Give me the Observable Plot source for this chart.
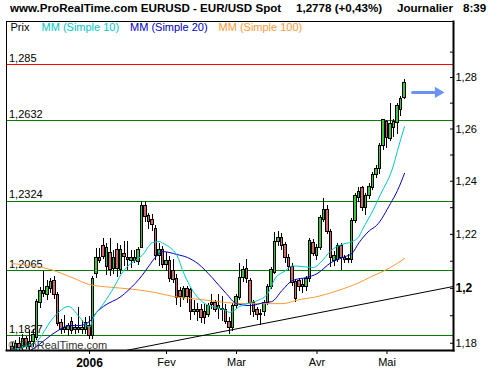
<!DOCTYPE html>
<html><head><meta charset="utf-8">
<script src="https://cdn.jsdelivr.net/npm/d3@7"></script>
<script src="https://cdn.jsdelivr.net/npm/@observablehq/plot@0.6"></script>
<style>
body{margin:0;background:#fff;font-family:"Liberation Sans",Arial,sans-serif;}
#wrap{position:relative;width:500px;height:370px;overflow:hidden;background:#fff;}
#title{position:absolute;left:0;top:0;width:500px;height:20px;font-weight:bold;font-size:11.6px;line-height:12px;color:#000;}
#title span{position:absolute;top:2px;white-space:nowrap;}
#chart{position:absolute;left:0;top:20px;}
</style></head><body>
<div id="wrap">
<div id="title">
<span style="left:10px">www.ProRealTime.com EURUSD - EUR/USD Spot</span>
<span style="left:296px">1,2778 (+0,43%)</span>
<span style="left:397px">Journalier</span>
<span style="left:463px">8:39</span>
</div>
<div id="chart"></div>
</div>
<script>
// daily candles, 1 Dec 2005 (index 0) to 8 May 2006 (index 112), trading-day index
const openP = [1.1788,1.1773,1.1799,1.1783,1.1815,1.1788,1.1804,1.1820,1.1945,1.1989,
1.1975,1.1999,1.2028,1.1975,1.1873,1.1854,1.1849,1.1878,1.1849,1.1854,
1.1849,1.1849,1.1863,1.1825,1.2052,1.2113,1.2156,1.2077,1.2131,1.2072,
1.2140,1.2067,1.2126,1.2113,1.2101,1.2111,1.2096,1.2151,1.2308,1.2270,
1.2255,1.2220,1.2121,1.2141,1.2086,1.2101,1.2065,1.2033,1.1989,1.1965,
1.1999,1.1994,1.1912,1.1921,1.1921,1.1912,1.1902,1.1940,1.1945,1.1926,
1.1921,1.1921,1.1878,1.1857,1.1936,1.1965,1.2037,1.2072,1.2028,1.1945,
1.1921,1.1907,1.1912,1.1945,1.2004,1.2057,1.2170,1.2185,1.2161,1.2111,
1.2077,1.2023,1.2028,1.2013,1.2004,1.2033,1.2166,1.2121,1.2151,1.2255,
1.2290,1.2210,1.2101,1.2106,1.2156,1.2111,1.2103,1.2106,1.2250,1.2335,
1.2375,1.2300,1.2345,1.2375,1.2425,1.2445,1.2536,1.2628,1.2562,1.2602,
1.2623,1.2674,1.2721];
const highP = [1.1804,1.1809,1.1820,1.1830,1.1825,1.1845,1.1849,1.1960,1.2004,1.2062,
1.2028,1.2038,1.2042,1.1985,1.1887,1.1902,1.1873,1.1892,1.1868,1.1931,
1.1883,1.1892,1.1897,1.2042,1.2148,1.2146,1.2185,1.2166,1.2185,1.2141,
1.2166,1.2159,1.2175,1.2175,1.2141,1.2141,1.2151,1.2325,1.2325,1.2280,
1.2275,1.2235,1.2166,1.2156,1.2131,1.2116,1.2106,1.2052,1.2004,1.2008,
1.2008,1.1999,1.1955,1.1945,1.1940,1.1940,1.1945,1.1979,1.1955,1.1979,
1.1970,1.1940,1.1892,1.1945,1.1979,1.2090,1.2082,1.2106,1.2038,1.1955,
1.1931,1.1921,1.1955,1.2013,1.2077,1.2207,1.2210,1.2205,1.2170,1.2126,
1.2091,1.2033,1.2038,1.2033,1.2042,1.2185,1.2180,1.2161,1.2270,1.2335,
1.2310,1.2220,1.2136,1.2166,1.2166,1.2121,1.2126,1.2260,1.2355,1.2375,
1.2380,1.2355,1.2390,1.2435,1.2460,1.2546,1.2638,1.2633,1.2700,1.2638,
1.2700,1.2726,1.2793];
const lowP = [1.1753,1.1758,1.1768,1.1773,1.1778,1.1773,1.1783,1.1809,1.1926,1.1965,
1.1955,1.1980,1.1960,1.1859,1.1830,1.1835,1.1825,1.1830,1.1830,1.1835,
1.1830,1.1830,1.1815,1.1815,1.2036,1.2091,1.2106,1.2047,1.2042,1.2052,
1.2039,1.2052,1.2082,1.2067,1.2072,1.2091,1.2086,1.2146,1.2245,1.2220,
1.2210,1.2101,1.2082,1.2072,1.2062,1.2023,1.2018,1.1936,1.1931,1.1955,
1.1945,1.1883,1.1902,1.1878,1.1873,1.1868,1.1892,1.1921,1.1912,1.1887,
1.1878,1.1868,1.1830,1.1844,1.1921,1.1955,1.2023,1.2018,1.1902,1.1892,
1.1883,1.1864,1.1897,1.1936,1.1994,1.2052,1.2156,1.2141,1.2091,1.2067,
1.2008,1.1950,1.1989,1.1980,1.1989,1.2023,1.2116,1.2101,1.2141,1.2245,
1.2200,1.2077,1.2082,1.2096,1.2065,1.2091,1.2091,1.2091,1.2240,1.2320,
1.2285,1.2270,1.2330,1.2365,1.2410,1.2425,1.2516,1.2526,1.2552,1.2567,
1.2577,1.2648,1.2716];
const closeP = [1.1773,1.1799,1.1783,1.1815,1.1788,1.1804,1.1830,1.1950,1.1989,1.1980,
1.2004,1.2023,1.1975,1.1868,1.1849,1.1849,1.1863,1.1844,1.1854,1.1849,
1.1854,1.1873,1.1825,1.2033,1.2111,1.2101,1.2114,1.2151,1.2067,1.2111,
1.2073,1.2140,1.2116,1.2103,1.2111,1.2101,1.2141,1.2305,1.2265,1.2245,
1.2235,1.2121,1.2141,1.2086,1.2101,1.2033,1.2029,1.1965,1.1970,1.1999,
1.1967,1.1912,1.1921,1.1914,1.1892,1.1892,1.1936,1.1947,1.1921,1.1936,
1.1926,1.1878,1.1854,1.1936,1.1970,1.2037,1.2067,1.2033,1.1945,1.1912,
1.1902,1.1902,1.1945,1.2004,1.2067,1.2170,1.2185,1.2156,1.2111,1.2077,
1.2018,1.1960,1.2005,1.2005,1.2033,1.2175,1.2126,1.2151,1.2260,1.2290,
1.2210,1.2111,1.2121,1.2156,1.2111,1.2103,1.2109,1.2250,1.2345,1.2360,
1.2300,1.2345,1.2380,1.2425,1.2445,1.2536,1.2633,1.2567,1.2618,1.2628,
1.2689,1.2716,1.2778];

// moving averages (trading-day index, value)
const ma10K = [0,7,11,14,16,19,22,23,26,29,31,33,35,37,40,42,43,45,47,49,52,55,58,61,62,65,68,70,73,75,78,80,83,86,88,91,94,97,99,100,103,105,109,110,112];
const ma10V = [1.1777,1.1808,1.1882,1.1922,1.1934,1.1897,1.1857,1.1889,1.1944,1.2004,1.2051,1.2083,1.2102,1.2121,1.2169,1.2173,1.2166,1.2151,1.2121,1.2054,1.1982,1.1944,1.1930,1.1919,1.1912,1.1934,1.1948,1.1955,1.1982,1.2036,1.2065,1.2083,1.2080,1.2077,1.2095,1.2140,1.2162,1.2173,1.2192,1.2218,1.2290,1.2346,1.2467,1.2517,1.2609];
const ma20K = [3,6,13,16,19,22,24,26,31,33,37,39,41,43,45,47,50,53,57,61,64,68,72,74,77,80,84,87,91,95,97,99,102,104,108,110,112];
const ma20V = [1.1758,1.1781,1.1846,1.1864,1.1864,1.1879,1.1912,1.1934,1.1970,1.1992,1.2047,1.2083,1.2117,1.2136,1.2132,1.2125,1.2114,1.2091,1.2040,1.1982,1.1944,1.1937,1.1948,1.1951,1.1992,1.2029,1.2040,1.2054,1.2095,1.2117,1.2129,1.2169,1.2214,1.2233,1.2316,1.2365,1.2430];
const ma100K = [0,11,17,22,28,35,41,46,54,61,68,77,82,86,93,99,102,108,112];
const ma100V = [1.2091,1.2069,1.2040,1.2014,1.2004,1.1996,1.1984,1.1970,1.1959,1.1948,1.1944,1.1944,1.1959,1.1967,1.1992,1.2021,1.2040,1.2077,1.2110];

// horizontal levels
const levelValues = [1.285, 1.2632, 1.2324, 1.2065, 1.1827];
const levelLabels = ["1,285", "1,2632", "1,2324", "1,2065", "1,1827"];
const levelColors = ["#ff0000", "#008000", "#008000", "#008000", "#008000"];

// trend line and projection arrow
const trendK = [30, 126];
const trendV = [1.1768, 1.2007];
const arrowK = [114.3, 121.6];
const arrowV = [1.2742, 1.2742];

// axes
const xTickPos = [22, 44, 64, 87, 107];
const xTickText = ["2006", "Fev", "Mar", "Avr", "Mai"];
const yMinorTicks = [1.18,1.19,1.20,1.21,1.22,1.23,1.24,1.25,1.26,1.27,1.28,1.29];
const yMajorTicks = [1.18, 1.20, 1.22, 1.24, 1.26, 1.28];
const yMajorText = ["1,18", "1,2", "1,22", "1,24", "1,26", "1,28"];

const GREEN = "#3cc43c", RED = "#cd6b6b";
const CYAN = "#00c8c8", BLUE = "#0000c8", ORANGE = "#ff9933";
const FONT = "Liberation Sans, Arial, Helvetica, sans-serif";

const candles = openP.map((o, i) => ({k: i, open: o, high: highP[i], low: lowP[i], close: closeP[i]}));
const pts = (K, V) => K.map((k, i) => ({k, v: V[i]}));
const levels = levelValues.map((v, i) => ({v, label: levelLabels[i], color: levelColors[i]}));

const chart = Plot.plot({
  width: 500, height: 350,
  marginTop: 1, marginBottom: 20, marginLeft: 6, marginRight: 47,
  style: {fontFamily: FONT, fontSize: "11px", background: "white", color: "black", overflow: "visible"},
  x: {type: "linear", domain: [-1.714, 126], axis: null, label: null},
  y: {type: "log", domain: [1.17739, 1.30215], axis: null, label: null},
  marks: [
    Plot.ruleY(levels, {y: "v", stroke: "color", strokeWidth: 1, shapeRendering: "crispEdges"}),
    Plot.text(levels, {y: "v", text: "label", frameAnchor: "left", dx: 2.5, dy: -3, lineAnchor: "bottom", textAnchor: "start", fill: "black", fontSize: 11}),
    Plot.line(pts(trendK, trendV), {x: "k", y: "v", stroke: "black", strokeWidth: 1, clip: true}),
    Plot.ruleX(candles, {x: "k", y1: "low", y2: "high", stroke: "black", strokeWidth: 1, clip: true, shapeRendering: "crispEdges"}),
    Plot.rect(candles, {x1: d => d.k - 0.4, x2: d => d.k + 0.4, y1: "open", y2: "close",
      fill: d => d.close >= d.open ? GREEN : RED, stroke: "black", strokeWidth: 1, clip: true, shapeRendering: "crispEdges"}),
    Plot.line(pts(ma100K, ma100V), {x: "k", y: "v", stroke: ORANGE, strokeWidth: 1, curve: "monotone-x", clip: true}),
    Plot.line(pts(ma20K, ma20V), {x: "k", y: "v", stroke: BLUE, strokeWidth: 1, curve: "monotone-x", clip: true}),
    Plot.line(pts(ma10K, ma10V), {x: "k", y: "v", stroke: CYAN, strokeWidth: 1, curve: "monotone-x", clip: true}),
    Plot.line(pts(arrowK, arrowV), {x: "k", y: "v", stroke: "#6a93f0", strokeWidth: 3}),
    Plot.dot([{k: arrowK[1], v: arrowV[1]}], {x: "k", y: "v", symbol: "triangle", rotate: 90, r: 3.2, fill: "#6a93f0", stroke: "#6a93f0"}),
    Plot.text(["© ProRealTime.com"], {frameAnchor: "bottom-left", dx: 2, dy: -2, lineAnchor: "bottom", textAnchor: "start", fill: "#333", fontSize: 11}),
    // legend inside the frame
    Plot.text(["Prix"], {frameAnchor: "top-left", dx: 4, dy: 9, lineAnchor: "bottom", textAnchor: "start", fill: "black", fontSize: 11}),
    Plot.text(["MM (Simple 10)"], {frameAnchor: "top-left", dx: 35, dy: 9, lineAnchor: "bottom", textAnchor: "start", fill: CYAN, fontSize: 11}),
    Plot.text(["MM (Simple 20)"], {frameAnchor: "top-left", dx: 123.5, dy: 9, lineAnchor: "bottom", textAnchor: "start", fill: BLUE, fontSize: 11}),
    Plot.text(["MM (Simple 100)"], {frameAnchor: "top-left", dx: 212, dy: 9, lineAnchor: "bottom", textAnchor: "start", fill: ORANGE, fontSize: 11}),
    // axes
    Plot.axisY(yMinorTicks, {anchor: "right", tickSize: -4, fill: "none", label: null, strokeWidth: 1}),
    Plot.axisY(yMajorTicks.filter(v => v !== 1.20), {anchor: "right", tickSize: 0, tickPadding: 2, label: null,
      tickFormat: v => yMajorText[yMajorTicks.indexOf(v)], fontSize: 11}),
    Plot.axisY([1.20], {anchor: "right", tickSize: 0, tickPadding: 2, label: null,
      tickFormat: v => yMajorText[yMajorTicks.indexOf(v)], fontSize: 12, fontWeight: "bold"}),
    Plot.axisX(xTickPos.slice(1), {anchor: "bottom", tickSize: 4, tickPadding: 4, label: null,
      tickFormat: k => xTickText[xTickPos.indexOf(k)], fontSize: 11}),
    Plot.axisX([xTickPos[0]], {anchor: "bottom", tickSize: 4, tickPadding: 4, label: null,
      tickFormat: k => xTickText[xTickPos.indexOf(k)], fontSize: 12, fontWeight: "bold"}),
    Plot.frame({stroke: "black", strokeWidth: 1, shapeRendering: "crispEdges"}),
    Plot.frame({anchor: "right", stroke: "black", strokeWidth: 2}),
    Plot.frame({anchor: "bottom", stroke: "black", strokeWidth: 2})
  ]
});
document.getElementById("chart").appendChild(chart);
</script>
</body></html>
